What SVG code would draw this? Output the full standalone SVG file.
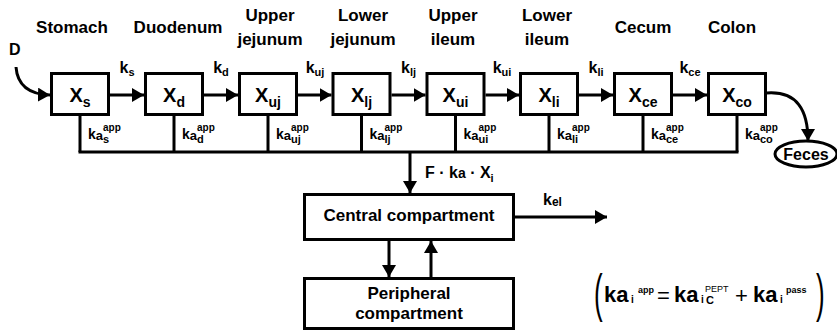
<svg xmlns="http://www.w3.org/2000/svg" width="837" height="331" viewBox="0 0 837 331">
  <defs>
    <style>
      .t { font-family: "Liberation Sans", Arial, Helvetica, sans-serif; font-weight: bold; fill: #000; }
      .n { font-family: "Liberation Sans", Arial, Helvetica, sans-serif; font-weight: normal; fill: #000; }
      .hd { font-size: 17px; text-anchor: middle; }
      .xl { font-size: 20px; text-anchor: middle; }
      .kr { font-size: 16px; text-anchor: middle; }
      .ka { font-size: 14px; }
      .box { fill: #fff; stroke: #000; stroke-width: 3; }
      .ln { fill: none; stroke: #000; stroke-width: 3; }
      .arr { fill: none; stroke: #000; stroke-width: 3; marker-end: url(#head); }
    </style>
    <marker id="head" markerUnits="userSpaceOnUse" viewBox="0 0 12 14" markerWidth="12" markerHeight="14" refX="12" refY="7" orient="auto">
      <path d="M0,0 L12,7 L0,14 Z" fill="#000"/>
    </marker>
  </defs>

  <rect width="837" height="331" fill="#fff"/>

  <!-- segment names -->
  <g id="segment-names" class="t hd">
    <text x="72" y="33">Stomach</text>
    <text x="178" y="33">Duodenum</text>
    <text x="270" y="21">Upper</text>
    <text x="270" y="45">jejunum</text>
    <text x="363" y="21">Lower</text>
    <text x="363" y="45">jejunum</text>
    <text x="453" y="21">Upper</text>
    <text x="453" y="45">ileum</text>
    <text x="547" y="21">Lower</text>
    <text x="547" y="45">ileum</text>
    <text x="643" y="33">Cecum</text>
    <text x="732" y="33">Colon</text>
  </g>

  <!-- connectors -->
  <g id="connectors">
    <!-- dose input -->
    <path class="arr" d="M16,67 Q18,94 50,95"/>
    <!-- transit between segments -->
    <line class="arr" x1="110" y1="95" x2="144" y2="95"/>
    <line class="arr" x1="204" y1="95" x2="238" y2="95"/>
    <line class="arr" x1="298" y1="95" x2="331.5" y2="95"/>
    <line class="arr" x1="391.5" y1="95" x2="425.5" y2="95"/>
    <line class="arr" x1="485.5" y1="95" x2="519" y2="95"/>
    <line class="arr" x1="579" y1="95" x2="613" y2="95"/>
    <line class="arr" x1="673" y1="95" x2="707" y2="95"/>
    <!-- excretion -->
    <path class="arr" d="M767,93 C797,91 808,110 808,141"/>
    <!-- absorption collector -->
    <line class="ln" x1="80" y1="116" x2="80" y2="152"/>
    <line class="ln" x1="174" y1="116" x2="174" y2="152"/>
    <line class="ln" x1="268" y1="116" x2="268" y2="152"/>
    <line class="ln" x1="361.5" y1="116" x2="361.5" y2="152"/>
    <line class="ln" x1="455.5" y1="116" x2="455.5" y2="152"/>
    <line class="ln" x1="549" y1="116" x2="549" y2="152"/>
    <line class="ln" x1="643" y1="116" x2="643" y2="152"/>
    <line class="ln" x1="737" y1="116" x2="737" y2="152"/>
    <line class="ln" x1="78.5" y1="152" x2="738.5" y2="152"/>
    <!-- into central -->
    <line class="arr" x1="410" y1="152" x2="410" y2="193"/>
    <!-- central / peripheral exchange -->
    <line class="arr" x1="389" y1="241" x2="389" y2="277"/>
    <line class="arr" x1="431" y1="277" x2="431" y2="241"/>
    <!-- elimination -->
    <line class="arr" x1="515" y1="217" x2="607" y2="217"/>
  </g>

  <!-- dose label -->
  <text class="t" x="9" y="55" font-size="16">D</text>

  <!-- transit rate labels -->
  <g id="transit-rates" class="t kr">
    <text x="127" y="73">k<tspan font-size="11" dy="3">s</tspan></text>
    <text x="221" y="73">k<tspan font-size="11" dy="3">d</tspan></text>
    <text x="315" y="73">k<tspan font-size="11" dy="3">uj</tspan></text>
    <text x="408.5" y="73">k<tspan font-size="11" dy="3">lj</tspan></text>
    <text x="502" y="73">k<tspan font-size="11" dy="3">ui</tspan></text>
    <text x="596" y="73">k<tspan font-size="11" dy="3">li</tspan></text>
    <text x="690" y="73">k<tspan font-size="11" dy="3">ce</tspan></text>
  </g>

  <!-- GI segment compartments -->
  <g id="node-xs"><rect class="box" x="51.5" y="73.5" width="57" height="41"/><text class="t xl" x="80" y="102">X<tspan font-size="14" dy="5">s</tspan></text></g>
  <g id="node-xd"><rect class="box" x="145.5" y="73.5" width="57" height="41"/><text class="t xl" x="174" y="102">X<tspan font-size="14" dy="5">d</tspan></text></g>
  <g id="node-xuj"><rect class="box" x="239.5" y="73.5" width="57" height="41"/><text class="t xl" x="268" y="102">X<tspan font-size="14" dy="5">uj</tspan></text></g>
  <g id="node-xlj"><rect class="box" x="333" y="73.5" width="57" height="41"/><text class="t xl" x="361.5" y="102">X<tspan font-size="14" dy="5">lj</tspan></text></g>
  <g id="node-xui"><rect class="box" x="427" y="73.5" width="57" height="41"/><text class="t xl" x="455.5" y="102">X<tspan font-size="14" dy="5">ui</tspan></text></g>
  <g id="node-xli"><rect class="box" x="520.5" y="73.5" width="57" height="41"/><text class="t xl" x="549" y="102">X<tspan font-size="14" dy="5">li</tspan></text></g>
  <g id="node-xce"><rect class="box" x="614.5" y="73.5" width="57" height="41"/><text class="t xl" x="643" y="102">X<tspan font-size="14" dy="5">ce</tspan></text></g>
  <g id="node-xco"><rect class="box" x="708.5" y="73.5" width="57" height="41"/><text class="t xl" x="737" y="102">X<tspan font-size="14" dy="5">co</tspan></text></g>

  <!-- apparent absorption rate labels -->
  <g id="absorption-rates" class="t">
    <text class="ka" x="88" y="139">k<tspan font-size="13" dy="1">a</tspan></text>
    <text x="103" y="131" font-size="10">app</text><text x="103" y="143" font-size="11">s</text>
    <text class="ka" x="182" y="139">k<tspan font-size="13" dy="1">a</tspan></text>
    <text x="197" y="131" font-size="10">app</text><text x="197" y="143" font-size="11">d</text>
    <text class="ka" x="276" y="139">k<tspan font-size="13" dy="1">a</tspan></text>
    <text x="291" y="131" font-size="10">app</text><text x="291" y="143" font-size="11">uj</text>
    <text class="ka" x="369.5" y="139">k<tspan font-size="13" dy="1">a</tspan></text>
    <text x="384.5" y="131" font-size="10">app</text><text x="384.5" y="143" font-size="11">lj</text>
    <text class="ka" x="463.5" y="139">k<tspan font-size="13" dy="1">a</tspan></text>
    <text x="478.5" y="131" font-size="10">app</text><text x="478.5" y="143" font-size="11">ui</text>
    <text class="ka" x="557" y="139">k<tspan font-size="13" dy="1">a</tspan></text>
    <text x="572" y="131" font-size="10">app</text><text x="572" y="143" font-size="11">li</text>
    <text class="ka" x="651" y="139">k<tspan font-size="13" dy="1">a</tspan></text>
    <text x="666" y="131" font-size="10">app</text><text x="666" y="143" font-size="11">ce</text>
    <text class="ka" x="745" y="139">k<tspan font-size="13" dy="1">a</tspan></text>
    <text x="760" y="131" font-size="10">app</text><text x="760" y="143" font-size="11">co</text>
  </g>

  <!-- feces -->
  <g id="node-feces">
    <ellipse class="ln" cx="806" cy="154" rx="31" ry="13"/>
    <text class="t" x="806" y="160" font-size="16" text-anchor="middle">Feces</text>
  </g>

  <!-- absorption flux label -->
  <text class="t" x="425" y="178" font-size="16">F · k<tspan font-size="14">a</tspan> · X<tspan font-size="11" dy="4">i</tspan></text>

  <!-- systemic compartments -->
  <g id="node-central">
    <rect class="box" x="304.5" y="194.5" width="209" height="45"/>
    <text class="t" x="409" y="221" font-size="17" text-anchor="middle">Central compartment</text>
  </g>
  <g id="node-peripheral">
    <rect class="box" x="304.5" y="278.5" width="209" height="50"/>
    <text class="t" x="409" y="299" font-size="17" text-anchor="middle">Peripheral</text>
    <text class="t" x="409" y="319" font-size="17" text-anchor="middle">compartment</text>
  </g>

  <!-- elimination rate -->
  <text class="t" x="543" y="205" font-size="16">k<tspan font-size="12" dy="1">el</tspan></text>

  <!-- apparent absorption rate definition -->
  <g id="equation">
    <text class="n" x="0" y="0" font-size="52" transform="translate(594,311) scale(0.5,1)">(</text>
    <text class="t" x="604" y="302" font-size="22">ka</text>
    <text class="t" x="631" y="303" font-size="10">i</text>
    <text class="t" x="638" y="293" font-size="9">app</text>
    <text class="n" x="657" y="303" font-size="22">=</text>
    <text class="t" x="674" y="302" font-size="22">ka</text>
    <text class="t" x="701" y="303" font-size="10">i</text>
    <text class="n" x="705" y="292" font-size="9">PEPT</text>
    <text class="t" x="706" y="304" font-size="11">C</text>
    <text class="n" x="735" y="303" font-size="22">+</text>
    <text class="t" x="753" y="302" font-size="22">ka</text>
    <text class="t" x="780" y="303" font-size="10">i</text>
    <text class="t" x="786" y="293" font-size="9">pass</text>
    <text class="n" x="0" y="0" font-size="52" transform="translate(816,311) scale(0.5,1)">)</text>
  </g>
</svg>
